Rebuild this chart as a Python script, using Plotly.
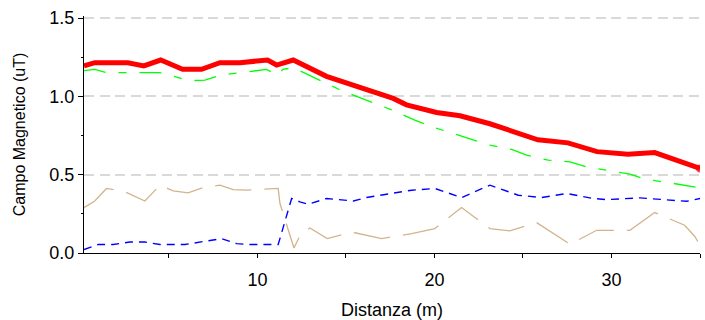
import plotly.graph_objects as go

# Distanza (m) and Campo Magnetico (uT) per series
red_x = [0.2, 0.81, 2.68, 3.58, 4.53, 5.77, 6.84, 7.88, 9.01, 10.57, 11.08, 12.02,
         13.90, 15.78, 17.67, 18.42, 20.12, 21.44, 23.13, 25.84, 27.54, 29.18,
         30.93, 32.44, 35.0]
red_y = [1.194, 1.215, 1.215, 1.194, 1.232, 1.173, 1.173, 1.215, 1.215, 1.232, 1.200, 1.232,
         1.128, 1.055, 0.987, 0.946, 0.897, 0.876, 0.825, 0.723, 0.703, 0.647,
         0.631, 0.641, 0.540]

green_x = [0.2, 0.81, 1.47, 4.49, 6.18, 7.03, 7.97, 9.46, 10.51, 11.14, 11.44, 12.02,
           13.34, 14.56, 15.41, 17.76, 18.89, 19.84, 21.06, 22.19, 23.13, 24.36,
           25.2, 26.42, 27.66, 28.59, 29.91, 31.04, 31.98, 33.3, 35.0]
green_y = [1.164, 1.172, 1.151, 1.151, 1.100, 1.104, 1.136, 1.157, 1.172, 1.136, 1.172, 1.183,
           1.110, 1.047, 1.008, 0.906, 0.848, 0.806, 0.763, 0.721, 0.689, 0.661,
           0.625, 0.593, 0.582, 0.550, 0.524, 0.503, 0.469, 0.448, 0.415]

blue_x = [0.2, 1.0, 1.85, 2.79, 3.64, 4.49, 5.9, 7.5, 7.97, 8.82, 9.57, 11.17,
          11.93, 12.4, 12.86, 13.9, 14.65, 15.41, 16.16, 17.48, 18.71, 20.02,
          21.53, 23.13, 24.73, 26.05, 27.46, 28.97, 29.72, 31.6, 33.11, 34.24, 35.0]
blue_y = [0.022, 0.054, 0.054, 0.070, 0.070, 0.054, 0.054, 0.086, 0.092, 0.060, 0.054, 0.054,
          0.348, 0.326, 0.311, 0.348, 0.341, 0.332, 0.354, 0.380, 0.401, 0.412,
          0.354, 0.433, 0.369, 0.354, 0.380, 0.348, 0.341, 0.352, 0.341, 0.330, 0.348]

tan_x = [0.2, 0.81, 1.47, 2.41, 3.64, 4.49, 5.24, 6.08, 6.93, 7.88, 8.63, 9.38,
         11.17, 11.27, 12.06, 12.44, 12.96, 13.94, 15.32, 16.25, 17.01, 18.71,
         20.02, 21.53, 23.13, 24.26, 25.77, 27.66, 28.59, 29.16, 31.04, 32.44,
         34.13, 34.7, 35.0]
tan_y = [0.290, 0.332, 0.412, 0.396, 0.332, 0.433, 0.396, 0.384, 0.418, 0.433, 0.405, 0.401,
         0.412, 0.316, 0.032, 0.120, 0.160, 0.092, 0.134, 0.113, 0.092, 0.124,
         0.156, 0.290, 0.156, 0.141, 0.194, 0.056, 0.113, 0.145, 0.145, 0.258,
         0.177, 0.107, 0.049]

x_title = "Distanza (m)"
y_title = "Campo Magnetico (uT)"

FONT = "Liberation Sans, Arial, sans-serif"

fig = go.Figure()
fig.add_trace(go.Scatter(x=tan_x, y=tan_y, mode="lines",
                         line=dict(color="#D2B48C", width=1.3, dash="37px,13px")))
fig.add_trace(go.Scatter(x=blue_x, y=blue_y, mode="lines",
                         line=dict(color="#0000FF", width=1.4, dash="8px,6px")))
fig.add_trace(go.Scatter(x=green_x, y=green_y, mode="lines",
                         line=dict(color="#00FF00", width=1.3, dash="22px,13px,8px,13px")))
marker_sizes = [0] * (len(red_x) - 1) + [8]
fig.add_trace(go.Scatter(x=red_x, y=red_y, mode="lines+markers",
                         line=dict(color="#FF0000", width=5),
                         marker=dict(color="#FF0000", size=marker_sizes, line=dict(width=0))))

xr = [0.2, 35.0]
yr = [0, 1.513]

fig.update_layout(
    width=705, height=320,
    margin=dict(l=84, r=5, t=16, b=67),
    paper_bgcolor="white", plot_bgcolor="white",
    showlegend=False,
    font=dict(family=FONT, color="black"),
    xaxis=dict(range=xr, showline=True, linecolor="black", linewidth=1, automargin=False,
               ticks="outside", ticklen=4, tickcolor="black", tick0=0, dtick=10,
               ticklabelstandoff=6,
               minor=dict(dtick=5, ticks="outside", ticklen=4, tickcolor="black", showgrid=False),
               showgrid=False, zeroline=False,
               tickfont=dict(size=18, family=FONT),
               title=dict(text=x_title, font=dict(size=18, family=FONT), standoff=14)),
    yaxis=dict(range=yr, showline=True, linecolor="black", linewidth=1, automargin=False,
               ticks="outside", ticklen=5, tickcolor="black", tick0=0, dtick=0.5,
               tickformat=".1f",
               minor=dict(dtick=0.25, ticks="outside", ticklen=2, tickcolor="black", showgrid=False),
               showgrid=True, gridcolor="#D9D9D9", gridwidth=2, griddash="10px,5.5px",
               zeroline=False,
               tickfont=dict(size=18, family=FONT),
               title=dict(text=y_title, font=dict(size=16, family=FONT), standoff=19)),
    xaxis2=dict(range=xr, overlaying="x", matches="x", showline=False, showgrid=False,
                automargin=False, zeroline=False, ticks="inside", ticklen=4, tickcolor="black",
                tick0=0, dtick=5, showticklabels=False, side="bottom"),
    yaxis2=dict(range=yr, overlaying="y", showline=False, showgrid=False, zeroline=False,
                automargin=False, ticks="inside", ticklen=6, tickcolor="black",
                tickvals=[0.25, 0.75, 1.25], showticklabels=False, side="left"),
)

fig.write_html("out.html", config={"displayModeBar": False},
               post_script="document.body.style.margin='0';document.body.style.overflow='hidden';")
